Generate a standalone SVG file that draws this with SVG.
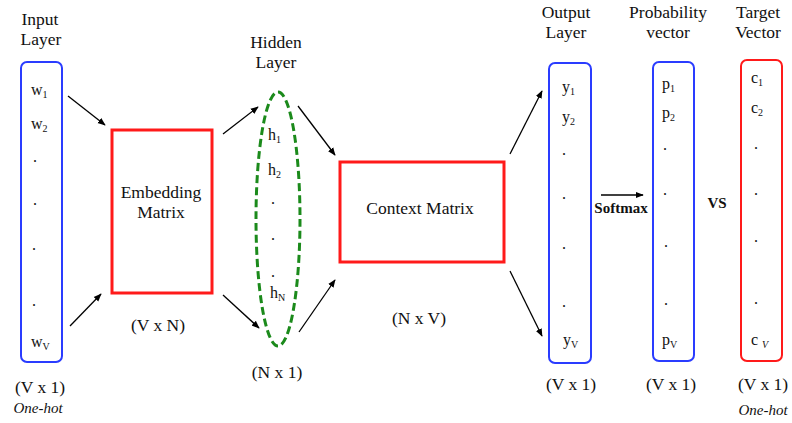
<svg xmlns="http://www.w3.org/2000/svg" width="792" height="423" viewBox="0 0 792 423">
<defs>
<marker id="ah" viewBox="0 0 10 10" refX="9" refY="5" markerWidth="8" markerHeight="8" markerUnits="userSpaceOnUse" orient="auto"><path d="M0,1 L10,5 L0,9 Z" fill="#000"/></marker>
<style>
text{font-family:"Liberation Serif","Times New Roman",serif;fill:#111}
.lbl{font-size:17.5px;text-anchor:middle}
.it{font-size:15px;font-style:italic;text-anchor:middle}
.v{font-size:16px}
.sub{font-size:10px}
.dot{font-size:16px}
.bluebox{fill:none;stroke:#2a3cff;stroke-width:2}
.redbox{fill:none;stroke:#ff1a1a;stroke-width:2}
.mat{fill:none;stroke:#ff1a1a;stroke-width:3}
.conn{stroke:#000;stroke-width:1.3;fill:none;marker-end:url(#ah)}
.bold{font-weight:bold;text-anchor:middle}
</style>
</defs>
<rect width="792" height="423" fill="#fff"/>

<g id="input-layer">
<text class="lbl" x="40" y="25">Input</text>
<text class="lbl" x="41" y="45">Layer</text>
<rect class="bluebox" x="21" y="62" width="41" height="300" rx="6"/>
<text class="v" x="31" y="95">w<tspan class="sub" dy="3">1</tspan></text>
<text class="v" x="31" y="129">w<tspan class="sub" dy="3">2</tspan></text>
<text class="dot" x="33" y="162">.</text>
<text class="dot" x="33" y="205">.</text>
<text class="dot" x="32" y="250">.</text>
<text class="dot" x="32" y="306">.</text>
<text class="v" x="31" y="347">w<tspan class="sub" dy="3">V</tspan></text>
<text class="lbl" x="40" y="393">(V x 1)</text>
<text class="it" x="38" y="413">One-hot</text>
</g>

<g id="embedding-matrix">
<rect class="mat" x="112" y="130" width="100" height="163"/>
<text class="lbl" x="161" y="198">Embedding</text>
<text class="lbl" x="161" y="218">Matrix</text>
<text class="lbl" x="158" y="331">(V x N)</text>
</g>

<g id="hidden-layer">
<text class="lbl" x="276" y="48">Hidden</text>
<text class="lbl" x="276" y="68">Layer</text>
<ellipse cx="278" cy="219" rx="22" ry="127" fill="none" stroke="#1b8a1b" stroke-width="3" stroke-dasharray="8,4"/>
<text class="v" x="268" y="140">h<tspan class="sub" dy="3">1</tspan></text>
<text class="v" x="268" y="175">h<tspan class="sub" dy="3">2</tspan></text>
<text class="dot" x="271" y="204">.</text>
<text class="dot" x="271" y="240">.</text>
<text class="dot" x="271" y="277">.</text>
<text class="v" x="270" y="298">h<tspan class="sub" dy="3">N</tspan></text>
<text class="lbl" x="277" y="378">(N x 1)</text>
</g>

<g id="context-matrix">
<rect class="mat" x="340" y="162" width="164" height="100"/>
<text class="lbl" x="420" y="214">Context Matrix</text>
<text class="lbl" x="419" y="324">(N x V)</text>
</g>

<g id="output-layer">
<text class="lbl" x="566" y="18">Output</text>
<text class="lbl" x="566" y="38">Layer</text>
<rect class="bluebox" x="549" y="63" width="42" height="300" rx="6"/>
<text class="v" x="562" y="92">y<tspan class="sub" dy="3">1</tspan></text>
<text class="v" x="562" y="122">y<tspan class="sub" dy="3">2</tspan></text>
<text class="dot" x="562" y="155">.</text>
<text class="dot" x="562" y="199">.</text>
<text class="dot" x="562" y="249">.</text>
<text class="dot" x="562" y="307">.</text>
<text class="v" x="563" y="345">y<tspan class="sub" dy="3">V</tspan></text>
<text class="lbl" x="571" y="390">(V x 1)</text>
</g>

<g id="probability-vector">
<text class="lbl" x="668" y="18">Probability</text>
<text class="lbl" x="668" y="38">vector</text>
<rect class="bluebox" x="653" y="62" width="41" height="299" rx="6"/>
<text class="v" x="662" y="89">p<tspan class="sub" dy="3">1</tspan></text>
<text class="v" x="662" y="118">p<tspan class="sub" dy="3">2</tspan></text>
<text class="dot" x="663" y="150">.</text>
<text class="dot" x="663" y="195">.</text>
<text class="dot" x="664" y="247">.</text>
<text class="dot" x="664" y="305">.</text>
<text class="v" x="662" y="345">p<tspan class="sub" dy="3">V</tspan></text>
<text class="lbl" x="671" y="390">(V x 1)</text>
</g>

<g id="target-vector">
<text class="lbl" x="758" y="18">Target</text>
<text class="lbl" x="758" y="38">Vector</text>
<rect class="redbox" x="741" y="60" width="41" height="301" rx="6"/>
<text class="v" x="751" y="83">c<tspan class="sub" dy="3">1</tspan></text>
<text class="v" x="751" y="113">c<tspan class="sub" dy="3">2</tspan></text>
<text class="dot" x="754" y="149">.</text>
<text class="dot" x="754" y="195">.</text>
<text class="dot" x="754" y="242">.</text>
<text class="dot" x="754" y="304">.</text>
<text class="v" x="751" y="345">c <tspan class="sub" dy="3" font-style="italic">V</tspan></text>
<text class="lbl" x="763" y="390">(V x 1)</text>
<text class="it" x="763" y="415">One-hot</text>
</g>

<g id="vs">
<text class="bold" x="717" y="208" font-size="15">VS</text>
</g>

<g id="connectors">
<line class="conn" x1="68" y1="96" x2="105" y2="125"/>
<line class="conn" x1="70" y1="326" x2="101" y2="294"/>
<line class="conn" x1="223" y1="134" x2="258" y2="107"/>
<line class="conn" x1="223" y1="295" x2="259" y2="328"/>
<line class="conn" x1="298" y1="106" x2="335" y2="155"/>
<line class="conn" x1="299" y1="332" x2="335" y2="280"/>
<line class="conn" x1="510" y1="154" x2="542" y2="91"/>
<line class="conn" x1="510" y1="271" x2="542" y2="336"/>
<line class="conn" x1="601" y1="195" x2="643" y2="195"/>
<text class="bold" x="621" y="213" font-size="15">Softmax</text>
</g>
</svg>
